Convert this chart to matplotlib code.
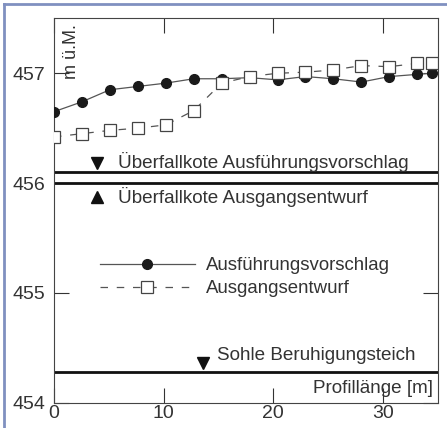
import matplotlib
matplotlib.use("Agg")
from matplotlib import pyplot as plt
from matplotlib.lines import Line2D

plt.rcParams['font.family'] = ['Liberation Sans', 'DejaVu Sans']

## profile positions [m]
x_pos = [0, 2.55, 5.1, 7.65, 10.2, 12.75, 15.3, 17.85, 20.4, 22.95, 25.5, 28.05, 30.6, 33.15, 34.5]

## water levels [m ü.M.]
ausfuehrung = [456.65, 456.74, 456.85, 456.88, 456.91, 456.95, 456.95, 456.96,
               456.94, 456.97, 456.95, 456.92, 456.97, 456.99, 457.00]
ausgang = [456.42, 456.45, 456.48, 456.50, 456.53, 456.66, 456.91, 456.97,
           457.00, 457.01, 457.03, 457.07, 457.06, 457.09, 457.09]

## reference levels
kote_ausfuehrung = 456.10
kote_ausgang = 456.00
sohle = 454.28

x_ticks = [0, 10, 20, 30]
y_ticks = [454, 455, 456, 457]

txt = "#333333"
fs = 13.6

fig = plt.figure(figsize=(4.47, 4.28), dpi=100)
ax = fig.add_axes([0.1208, 0.0591, 0.858, 0.898])

ax.plot(x_pos, ausfuehrung, color="#555555", lw=0.9, marker="o", ms=7,
        mfc="#1a1a1a", mec="#1a1a1a", label="Ausführungsvorschlag", zorder=3)
ax.plot(x_pos, ausgang, color="#555555", lw=0.9, ls=(0, (6, 7)), marker="s", ms=8,
        mfc="white", mec="#444444", mew=0.9, label="Ausgangsentwurf", zorder=4)

ax.axhline(kote_ausfuehrung, color="#111111", lw=2)
ax.axhline(kote_ausgang, color="#111111", lw=2)
ax.axhline(sohle, color="#111111", lw=2)

ax.plot([3.9], [456.18], marker="v", ms=8, color="#111111", ls="none")
ax.plot([3.9], [455.87], marker="^", ms=8, color="#111111", ls="none")
ax.plot([13.6], [454.36], marker="v", ms=8, color="#111111", ls="none")

ax.text(5.8, 456.19, "Überfallkote Ausführungsvorschlag", fontsize=fs, color=txt, va="center")
ax.text(5.8, 455.87, "Überfallkote Ausgangsentwurf", fontsize=fs, color=txt, va="center")
ax.text(14.9, 454.43, "Sohle Beruhigungsteich", fontsize=fs, color=txt, va="center")
ax.text(34.6, 454.13, "Profillänge [m]", fontsize=fs, color=txt, va="center", ha="right")
ax.text(1.6, 457.45, "m ü.M.", fontsize=13, color=txt, va="top", ha="center", rotation=90)

leg = ax.legend(loc="upper left", bbox_to_anchor=(0.12, 0.378), frameon=False,
                fontsize=13.4, handlelength=5.1, handletextpad=0.6, labelspacing=0.3,
                borderpad=0, borderaxespad=0, numpoints=1)
for t in leg.get_texts():
    t.set_color(txt)

ax.set_xlim(0, 35)
ax.set_ylim(454, 457.5)
ax.set_xticks(x_ticks)
ax.set_yticks(y_ticks)
ax.tick_params(direction="in", length=11, width=0.8, color="#333333",
               top=True, right=True, labelsize=14, labelcolor=txt)
ax.tick_params(axis="x", pad=2)
ax.tick_params(axis="y", pad=6)
for s in ax.spines.values():
    s.set_linewidth(0.8)
    s.set_color("#444444")

## frame around the figure
fig.add_artist(Line2D([0.009, 0.009], [0.0, 0.991], transform=fig.transFigure, color="#8090c0", lw=2))
fig.add_artist(Line2D([0.009, 1.0], [0.991, 0.991], transform=fig.transFigure, color="#8090c0", lw=2))

fig.savefig("out.png", dpi=100)
